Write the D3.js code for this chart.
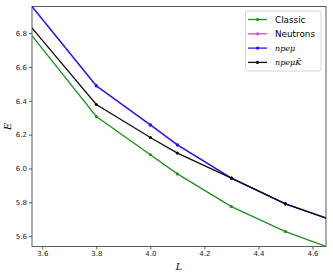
<!DOCTYPE html>
<html>
<head>
<meta charset="utf-8">
<script src="https://cdn.jsdelivr.net/npm/d3@7"></script>
<style>
  body { margin: 0; background: #fff; }
  svg text { font-family: "DejaVu Sans", sans-serif; }
  .tick text { font-size: 7px; fill: #222; }
  .math { font-family: "DejaVu Serif", serif; font-style: italic; }
</style>
</head>
<body>
<svg id="chart" width="333" height="276"></svg>
<script>
// data
const L = [3.55, 3.8, 4.0, 4.1, 4.3, 4.5, 4.7]
const classicE  = [6.808, 6.307, 6.081, 5.968, 5.775, 5.627, 5.510]
const neutronsE = [6.979, 6.487, 6.256, 6.138, 5.942, 5.791, 5.681]
const npemuE    = [6.981, 6.489, 6.258, 6.140, 5.943, 5.791, 5.679]
const npemuKE   = [6.853, 6.378, 6.183, 6.091, 5.943, 5.791, 5.679]
const xTicks = [3.6, 3.8, 4.0, 4.2, 4.4, 4.6]
const yTicks = [5.6, 5.8, 6.0, 6.2, 6.4, 6.6, 6.8]

const series = [
  { name: 'Classic',  values: classicE,  color: '#1f8f1f', math: false },
  { name: 'Neutrons', values: neutronsE, color: '#e040e0', math: false },
  { name: 'npeμ',     values: npemuE,    color: '#1a1aff', math: true },
  { name: 'npeμK̄',    values: npemuKE,   color: '#111111', math: true }
]

////////////////////////// SETUP //////////////////////////

const margin = { left: 32, right: 7, top: 6.5, bottom: 29.5 }
const width = 333 - margin.left - margin.right
const height = 276 - margin.top - margin.bottom

const svg = d3.select('#chart')
const g = svg.append('g').attr('transform', `translate(${margin.left},${margin.top})`)

const xScale = d3.scaleLinear().domain([3.562, 4.65]).range([0, width])
const yScale = d3.scaleLinear().domain([5.539, 6.957]).range([height, 0])

svg.append('defs').append('clipPath').attr('id', 'clip')
  .append('rect').attr('width', width).attr('height', height)

////////////////////////// AXES //////////////////////////

const xAxis = g.append('g')
  .attr('transform', `translate(0,${height})`)
  .call(d3.axisBottom(xScale).tickValues(xTicks).tickFormat(d3.format('.1f')).tickSize(3).tickPadding(2))
const yAxis = g.append('g')
  .call(d3.axisLeft(yScale).tickValues(yTicks).tickFormat(d3.format('.1f')).tickSize(3).tickPadding(2))

xAxis.select('.domain').remove()
yAxis.select('.domain').remove()
g.selectAll('.tick line').attr('stroke', '#333').attr('stroke-width', 0.8)

// frame
g.append('rect')
  .attr('width', width).attr('height', height)
  .attr('fill', 'none').attr('stroke', '#333').attr('stroke-width', 0.8)

// axis labels
svg.append('text').attr('class', 'math')
  .attr('x', margin.left + width / 2).attr('y', 270)
  .attr('text-anchor', 'middle').attr('font-size', 9.5).text('L')
svg.append('text').attr('class', 'math')
  .attr('transform', `translate(11,${margin.top + height / 2}) rotate(-90)`)
  .attr('text-anchor', 'middle').attr('font-size', 9.5).text('E')

////////////////////////// LINES //////////////////////////

const line = d3.line().x((d) => xScale(d[0])).y((d) => yScale(d[1]))
const plot = g.append('g').attr('clip-path', 'url(#clip)')

series.forEach((s) => {
  const pts = L.map((l, i) => [l, s.values[i]])
  plot.append('path')
    .datum(pts)
    .attr('d', line)
    .attr('fill', 'none')
    .attr('stroke', s.color)
    .attr('stroke-width', 1.3)
  plot.selectAll(null)
    .data(pts)
    .enter()
    .append('circle')
    .attr('cx', (d) => xScale(d[0]))
    .attr('cy', (d) => yScale(d[1]))
    .attr('r', 1.6)
    .attr('fill', s.color)
})

////////////////////////// LEGEND //////////////////////////

const legend = svg.append('g').attr('transform', 'translate(245.5,11)')
legend.append('rect')
  .attr('width', 75.5).attr('height', 60).attr('rx', 2)
  .attr('fill', '#fff').attr('fill-opacity', 0.8)
  .attr('stroke', '#ccc').attr('stroke-width', 0.8)

series.forEach((s, i) => {
  const y = 8.5 + i * 14.3
  legend.append('line')
    .attr('x1', 2.5).attr('x2', 21.5).attr('y1', y).attr('y2', y)
    .attr('stroke', s.color).attr('stroke-width', 1.3)
  legend.append('circle').attr('cx', 12).attr('cy', y).attr('r', 1.6).attr('fill', s.color)
  legend.append('text')
    .attr('class', s.math ? 'math' : null)
    .attr('x', 29.5).attr('y', y + 3)
    .attr('font-size', s.math ? 8 : 8.8)
    .attr('font-weight', s.math ? 300 : null)
    .text(s.name)
})
</script>
</body>
</html>
